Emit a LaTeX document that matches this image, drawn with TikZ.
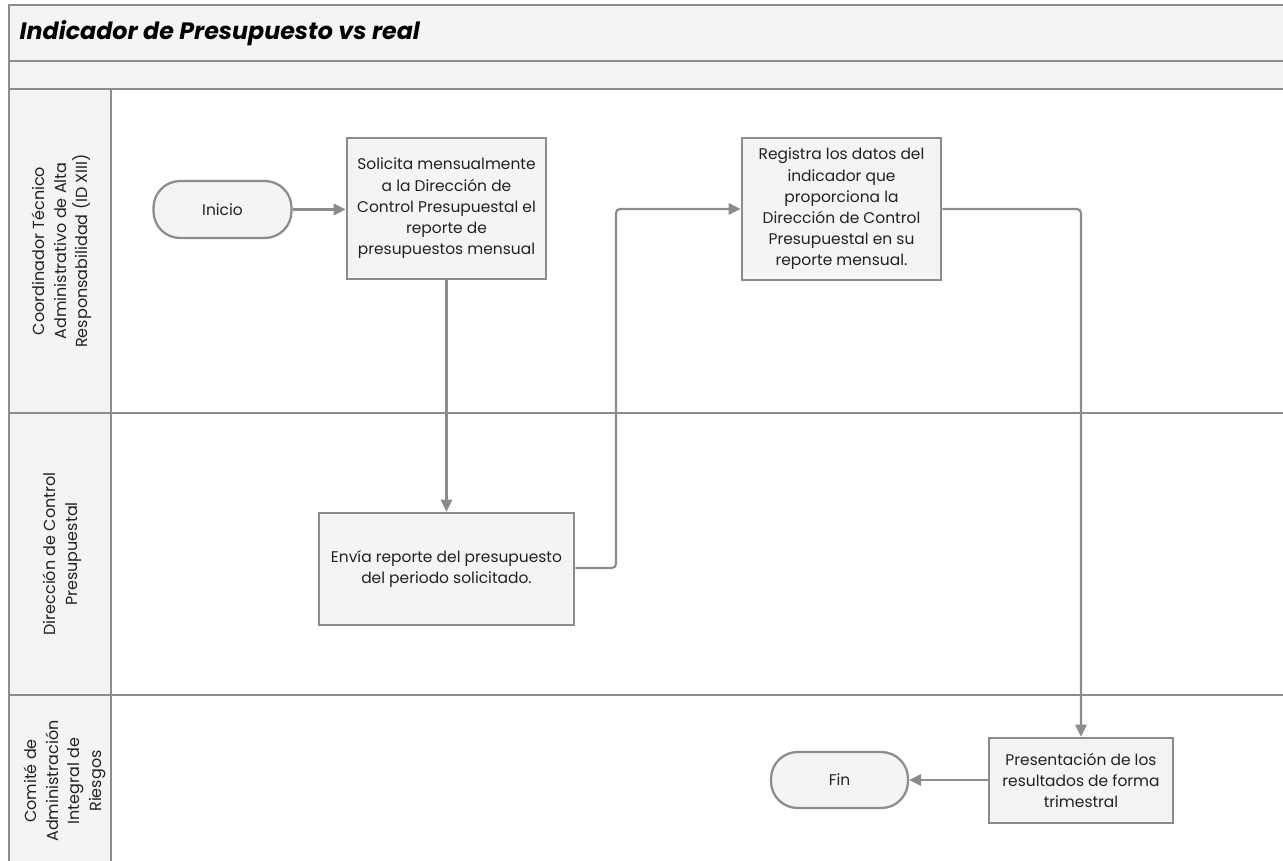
\documentclass[tikz,border=0pt]{standalone}
\usepackage{fontspec}
\setmainfont{Poppins}
\usetikzlibrary{arrows.meta}
\definecolor{lineg}{HTML}{8C8C8C}
\definecolor{boxfill}{HTML}{F4F4F4}
\definecolor{txt}{HTML}{222222}
\tikzset{
  frame/.style={draw=lineg, line width=1.7pt},
  procbox/.style={draw=lineg, line width=1.9pt, fill=boxfill, text=txt, inner sep=0pt, align=center,
    font=\fontsize{11.6}{15.9}\selectfont},
  termbox/.style={draw=lineg, line width=1.7pt, fill=boxfill, text=txt, inner sep=0pt, align=center,
    rounded corners=20pt, font=\fontsize{11.6}{15.9}\selectfont},
  flow/.style={draw=lineg, line width=1.6pt, rounded corners=3pt, -{Triangle[length=9pt,width=8.5pt]}},
  lanelabel/.style={text=txt, align=center, rotate=90, font=\fontsize{12}{16.3}\selectfont}
}
\begin{document}
\begin{tikzpicture}[x=0.75pt,y=-0.75pt]
\useasboundingbox (0,0) rectangle (1283,861);
\begin{scope}
\clip (0,0) rectangle (1283,861);
\fill[boxfill] (9,5) rectangle (1300,89);
\fill[boxfill] (9,89) rectangle (111,900);
\draw[frame] (9,900) -- (9,5) -- (1300,5);
\draw[frame] (9,61) -- (1300,61);
\draw[frame] (9,89) -- (1300,89);
\draw[frame] (9,413) -- (1300,413);
\draw[frame] (9,695) -- (1300,695);
\draw[frame] (111,89) -- (111,900);
\end{scope}

\node[anchor=west, text=black, font=\fontsize{17.8}{20}\selectfont\bfseries\itshape] (title) at (15,33) {Indicador de Presupuesto vs real};

\node[lanelabel] (lane1) at (62,251) {Coordinador Técnico\\Administrativo de Alta\\Responsabilidad (ID XIII)};
\node[lanelabel] (lane2) at (62,554) {Dirección de Control\\Presupuestal};
\node[lanelabel] (lane3) at (65,781) {Comité de\\Administración\\Integral de\\Riesgos};

\node[termbox, minimum width=103.5pt, minimum height=42.75pt] (inicio) at (222.5,209.5) {Inicio};
\node[procbox, minimum width=149.25pt, minimum height=105.75pt] (solicita) at (446.5,208.5)
  {Solicita mensualmente\\a la Dirección de\\Control Presupuestal el\\reporte de\\presupuestos mensual};
\node[procbox, minimum width=149.25pt, minimum height=106.5pt] (registra) at (841.5,209)
  {Registra los datos del\\indicador que\\proporciona la\\Dirección de Control\\Presupuestal en su\\reporte mensual.};
\node[procbox, minimum width=191.25pt, minimum height=84pt] (envia) at (446.5,569)
  {Envía reporte del presupuesto\\del periodo solicitado.};
\node[procbox, minimum width=138pt, minimum height=63.75pt] (present) at (1081,780.5)
  {Presentación de los\\resultados de forma\\trimestral};
\node[termbox, minimum width=102.75pt, minimum height=42pt] (fin) at (839.5,780) {Fin};

\coordinate (c1) at (616,568);
\coordinate (c2) at (616,209);
\coordinate (c3) at (1081,209);

\draw[flow] (inicio.east) -- (inicio.east -| solicita.west);
\draw[flow] (solicita.south) -- (envia.north);
\draw[flow] (envia.east |- c1) -- (c1) -- (c2) -- (registra.west |- c2);
\draw[flow] (registra.east |- c3) -- (c3) -- (present.north);
\draw[flow] (present.west |- fin.east) -- (fin.east);
\end{tikzpicture}
\end{document}
